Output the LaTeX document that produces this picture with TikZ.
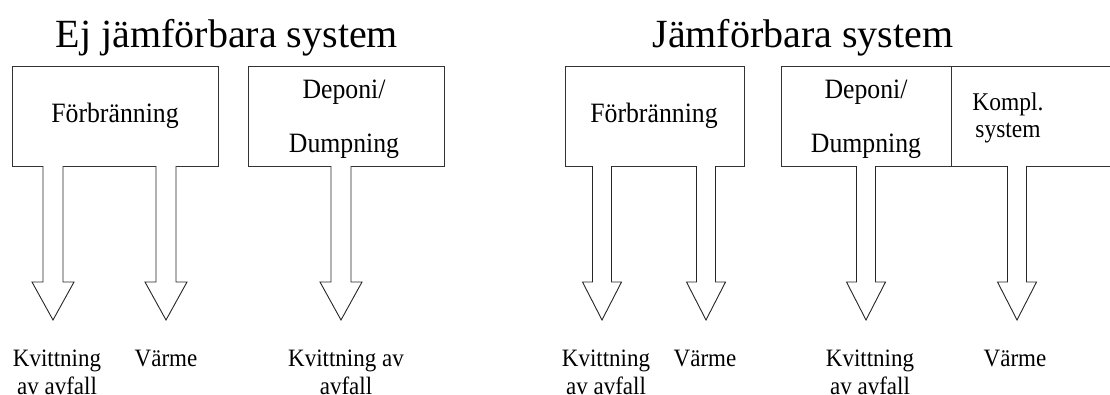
\documentclass[tikz,border=0pt]{standalone}
\usepackage{fontspec}
\setmainfont{Liberation Serif}
\newfontfamily\cond[FakeStretch=0.92]{Liberation Serif}
\newcommand\blockdown[4]{% name, x, half shaft, half head
  \coordinate (#1) at (#2,166);
  \draw[barrow] ([xshift=-#3pt]#1) -- ++(0,116) -- ++(#3-#4,0) -- (#2,320)
    -- ++(#4,-38) -- ++(#3-#4,0) -- ([xshift=#3pt]#1);}
\begin{document}
\begin{tikzpicture}[x=1pt,y=-1pt,line join=miter,
  box/.style={draw=black!80,line width=1.4pt,minimum width=#1,minimum height=100pt,inner sep=0pt,anchor=north west},
  barrow/.style={draw=black!85,line width=0.9pt,fill=white},
  title/.style={font=\fontsize{40}{44}\selectfont,anchor=base,inner sep=0pt},
  btext/.style={font=\cond\fontsize{28}{54}\selectfont,anchor=base,inner sep=0pt,align=center},
  ktext/.style={font=\cond\fontsize{25.5}{27}\selectfont,anchor=base,inner sep=0pt,align=center},
  lbl/.style={font=\cond\fontsize{25}{28}\selectfont,anchor=base,inner sep=0pt,align=center}]
\useasboundingbox (0,0) rectangle (1110,394);
% titles
\node[title] (t1) at (227,47) {Ej jämförbara system};
\node[title] (t2) at (803,47) {Jämförbara system};
% left boxes
\node[box=206pt] (b1) at (12,66) {};
\node[box=196pt] (b2) at (248,66) {};
\node[btext] (b1t) at (115,122) {Förbränning};
\node[btext] (b2t) at (344,152) {Deponi/\\Dumpning};
% right boxes
\node[box=179pt] (b3) at (565,66) {};
\node[box=170pt] (b4) at (781,66) {};
\node[box=180pt] (b5) at (951,66) {};
\node[btext] (b3t) at (654,122) {Förbränning};
\node[btext] (b4t) at (866,152) {Deponi/\\Dumpning};
\node[ktext] (b5t) at (1008,137) {Kompl.\\system};
% arrows
\blockdown{a1}{53}{10}{21}
\blockdown{a2}{166}{10}{21}
\blockdown{a3}{341}{10}{21}
\blockdown{a4}{602}{9.5}{19.5}
\blockdown{a5}{706}{9.5}{19.5}
\blockdown{a6}{866}{9.5}{19.5}
\blockdown{a7}{1017}{9.5}{19.5}
% labels
\node[lbl] (l1) at (57,394) {Kvittning\\av avfall};
\node[lbl] (l2) at (166,366) {Värme};
\node[lbl] (l3) at (346,394) {Kvittning av\\avfall};
\node[lbl] (l4) at (606,394) {Kvittning\\av avfall};
\node[lbl] (l5) at (705,366) {Värme};
\node[lbl] (l6) at (870,394) {Kvittning\\av avfall};
\node[lbl] (l7) at (1015,366) {Värme};
\end{tikzpicture}
\end{document}
